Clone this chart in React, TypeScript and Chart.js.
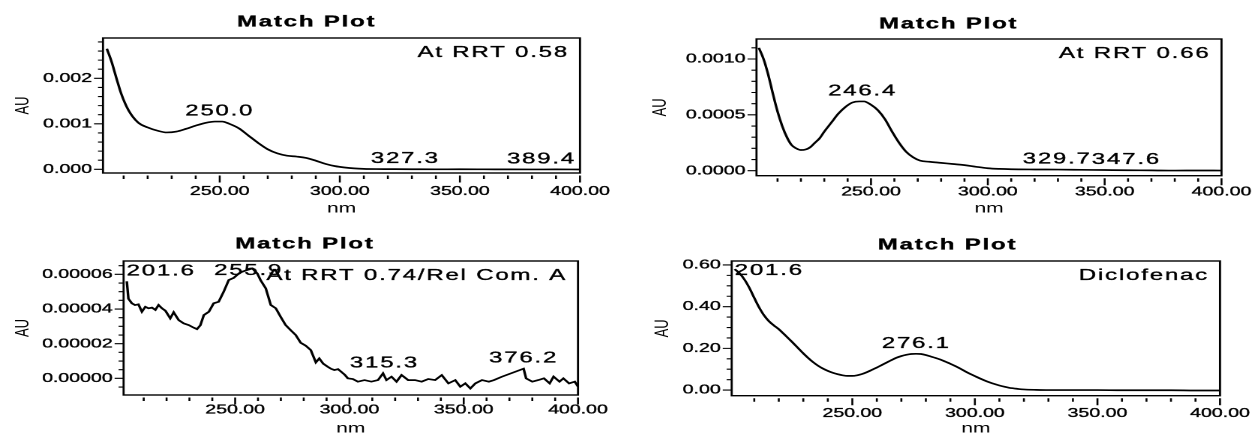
import React, { useEffect, useRef } from "react";
import { Chart, registerables } from "chart.js";

Chart.register(...registerables);

// ---------------- DATA ----------------
// Panel A: At RRT 0.58
const nmA = [203, 205, 207, 209, 212, 216, 220, 224, 228, 232, 236, 240, 244, 248, 251, 254, 258, 262, 266, 270, 274, 278, 282, 286, 290, 294, 298, 302, 306, 310, 315, 320, 330, 340, 350, 360, 370, 380, 390, 400];
const auA = [0.00265, 0.00236, 0.002, 0.00166, 0.0013, 0.00103, 0.00092, 0.00085, 0.00081, 0.00083, 0.00089, 0.00096, 0.00102, 0.00105, 0.00105, 0.001, 0.0009, 0.00074, 0.00058, 0.00044, 0.00035, 0.0003, 0.00028, 0.00025, 0.00019, 0.00012, 0.00007, 0.00004, 0.00002, 0.00001, 0.000005, 0.000004, 0.000002, 0.0, 0.000001, 0.0, -0.000002, -0.000003, -0.000002, -0.000004];
const peakNmA = [250.0, 327.3, 389.4];
const peakAuA = [0.00105, 0.00001, 0.0];
const headerA = "At RRT 0.58";
const yTicksA = [0, 0.001, 0.002];

// Panel B: At RRT 0.66
const nmB = [202, 204, 206, 208, 210, 212, 214, 216, 218, 220, 222, 224, 226, 228, 230, 233, 236, 239, 242, 245, 247, 250, 253, 256, 259, 262, 265, 268, 271, 275, 280, 285, 290, 295, 300, 305, 310, 320, 330, 340, 350, 360, 370, 380, 390, 400];
const auB = [0.0011, 0.001, 0.00086, 0.00069, 0.00053, 0.0004, 0.0003, 0.00023, 0.0002, 0.000185, 0.00019, 0.00021, 0.00025, 0.00029, 0.00035, 0.00043, 0.00051, 0.00057, 0.00061, 0.00062, 0.00062, 0.00059, 0.00054, 0.00046, 0.00035, 0.00025, 0.00017, 0.00012, 0.00009, 0.00008, 0.00007, 0.00006, 0.00005, 0.000035, 0.000022, 0.000016, 0.000013, 0.000011, 0.00001, 0.000008, 0.000006, 0.000004, 0.000003, 0.000001, 0.000002, 0.000001];
const peakNmB = [246.4, 329.7, 347.6];
const peakAuB = [0.00062, 0.00001, 0.000007];
const headerB = "At RRT 0.66";
const yTicksB = [0, 0.0005, 0.001];

// Panel C: At RRT 0.74/Rel Com. A
const nmC = [202.6, 203.3, 204.8, 206.2, 207.7, 209.2, 210.7, 212.1, 213.6, 215.1, 216.5, 218.0, 219.5, 221.6, 223.1, 225.3, 227.5, 229.7, 231.9, 233.3, 234.8, 236.3, 238.5, 240.6, 242.8, 245.0, 247.2, 249.4, 251.6, 253.1, 255.3, 257.5, 259.7, 261.1, 263.4, 265.6, 267.8, 269.9, 272.1, 274.3, 276.5, 278.7, 280.9, 283.1, 285.3, 286.8, 288.5, 290.5, 292.0, 293.4, 295.0, 296.4, 298.0, 299.3, 301.5, 303.7, 306.6, 309.6, 312.5, 314.7, 316.2, 318.4, 320.6, 322.8, 325.7, 328.7, 331.6, 334.5, 337.5, 340.4, 343.3, 346.3, 348.5, 350.7, 352.9, 355.1, 358.0, 361.0, 363.2, 366.6, 376.2, 377.3, 380.0, 382.6, 385.1, 387.6, 389.3, 391.9, 393.6, 396.1, 398.6, 400.0];
const auC = [5.6e-5, 4.6e-5, 4.33e-5, 4.23e-5, 4.27e-5, 3.84e-5, 4.13e-5, 4.04e-5, 4.08e-5, 3.95e-5, 4.23e-5, 4.04e-5, 3.9e-5, 3.46e-5, 3.81e-5, 3.36e-5, 3.17e-5, 3.07e-5, 2.92e-5, 2.84e-5, 3.07e-5, 3.65e-5, 3.84e-5, 4.33e-5, 4.42e-5, 5.0e-5, 5.67e-5, 5.8e-5, 6.05e-5, 6.15e-5, 6.25e-5, 6.34e-5, 6.05e-5, 5.67e-5, 5.19e-5, 4.23e-5, 4.04e-5, 3.55e-5, 3.07e-5, 2.78e-5, 2.5e-5, 2.05e-5, 1.88e-5, 1.63e-5, 9.2e-6, 1.15e-5, 8.5e-6, 6.7e-6, 5.5e-6, 4.8e-6, 5.3e-6, 3.8e-6, 2.0e-6, 0, -4e-7, -1.9e-6, -1e-6, -1.9e-6, -1e-6, 2.9e-6, -1e-6, 9.6e-7, -1.9e-6, 1.9e-6, -1e-6, -1e-6, -1.9e-6, -4e-7, -1e-6, 1.9e-6, -2.9e-6, -1e-6, -4.8e-6, -2.9e-6, -5.8e-6, -2.9e-6, -1e-6, -1.9e-6, -1e-6, 9e-7, 5.6e-6, 0, -1.9e-6, -1e-6, 0, -2.9e-6, 1e-6, -1.9e-6, 0, -2.9e-6, -1.9e-6, -4.8e-6];
const peakNmC = [201.6, 255.9, 315.3, 376.2];
const peakAuC = [5.6e-5, 6.3e-5, 2.9e-6, 5.6e-6];
const headerC = "At RRT 0.74/Rel Com. A";
const yTicksC = [0, 0.00002, 0.00004, 0.00006];

// Panel D: Diclofenac
const nmD = [202, 204, 206, 208, 210, 212, 214, 216, 218, 220, 222, 224, 226, 228, 230, 232, 234, 236, 238, 240, 242, 244, 246, 248, 250, 252, 254, 256, 258, 260, 262, 264, 266, 268, 270, 272, 274, 276, 278, 280, 282, 284, 286, 288, 290, 292, 294, 296, 298, 300, 302, 304, 306, 308, 310, 312, 314, 316, 318, 320, 325, 330, 340, 350, 360, 370, 380, 390, 400];
const auD = [0.58, 0.56, 0.53, 0.49, 0.442, 0.396, 0.358, 0.33, 0.31, 0.292, 0.27, 0.247, 0.224, 0.2, 0.176, 0.154, 0.134, 0.117, 0.103, 0.092, 0.083, 0.076, 0.071, 0.068, 0.068, 0.071, 0.077, 0.086, 0.097, 0.108, 0.12, 0.132, 0.144, 0.155, 0.163, 0.169, 0.173, 0.174, 0.173, 0.168, 0.161, 0.154, 0.146, 0.136, 0.126, 0.115, 0.103, 0.09, 0.078, 0.067, 0.056, 0.046, 0.037, 0.029, 0.022, 0.016, 0.011, 0.008, 0.005, 0.003, 0.001, 0.0, 0.0, 0.0, -0.001, -0.001, -0.001, -0.002, -0.002];
const peakNmD = [201.6, 276.1];
const peakAuD = [0.58, 0.174];
const headerD = "Diclofenac";
const yTicksD = [0, 0.2, 0.4, 0.6];

const xMajorTicks = [250, 300, 350, 400];
const X_MINOR = 10;
const TITLE = "Match Plot";

// ---------------- LAYOUT ----------------
const STRETCH = 1.5;
const FAMILY = '"Liberation Sans", Arial, Helvetica, sans-serif';
const TEXT_STROKE = 0.35;

type Panel = {
  nm: number[]; au: number[]; smooth: boolean;
  peakNm: number[]; peakAu: number[]; header: string;
  yTicks: number[]; yDecimals: number; yMinor: number;
  xMin: number; xMax: number; yMin: number; yMax: number;
  left: number; top: number; width: number; height: number;
  areaL: number; areaR: number; areaT: number; areaB: number;
  titleX: number; titleY: number; auPad: number; xLabelPad: number;
};

const panels: Panel[] = [
  {
    nm: nmA, au: auA, smooth: true, peakNm: peakNmA, peakAu: peakAuA, header: headerA,
    yTicks: yTicksA, yDecimals: 3, yMinor: 0.0002,
    xMin: 201.4, xMax: 400, yMin: -0.000081, yMax: 0.002886,
    left: 0, top: 0, width: 618, height: 217,
    areaL: 103, areaR: 580, areaT: 38, areaB: 173,
    titleX: 306.7, titleY: 26.7, auPad: 7.5, xLabelPad: 10.5,
  },
  {
    nm: nmB, au: auB, smooth: true, peakNm: peakNmB, peakAu: peakAuB, header: headerB,
    yTicks: yTicksB, yDecimals: 4, yMinor: 0.0001,
    xMin: 201.0, xMax: 400, yMin: -0.0000448, yMax: 0.001179,
    left: 620, top: 0, width: 632, height: 217,
    areaL: 756.5, areaR: 1221.5, areaT: 39, areaB: 175.7,
    titleX: 948.6, titleY: 28.3, auPad: 19.1, xLabelPad: 8.2,
  },
  {
    nm: nmC, au: auC, smooth: false, peakNm: peakNmC, peakAu: peakAuC, header: headerC,
    yTicks: yTicksC, yDecimals: 5, yMinor: 0.000005,
    xMin: 201.2, xMax: 400, yMin: -0.0000096, yMax: 0.0000677,
    left: 0, top: 217, width: 618, height: 220,
    areaL: 123.6, areaR: 578, areaT: 261, areaB: 395,
    titleX: 305, titleY: 248.3, auPad: 7.5, xLabelPad: 7.2,
  },
  {
    nm: nmD, au: auD, smooth: true, peakNm: peakNmD, peakAu: peakAuD, header: headerD,
    yTicks: yTicksD, yDecimals: 2, yMinor: 0.05,
    xMin: 200.8, xMax: 400, yMin: -0.027, yMax: 0.619,
    left: 620, top: 217, width: 632, height: 220,
    areaL: 731.7, areaR: 1220, areaT: 261, areaB: 395.7,
    titleX: 947.6, titleY: 249.3, auPad: 20.4, xLabelPad: 9.8,
  },
];

function drawText(ctx: CanvasRenderingContext2D, text: string, x: number, y: number) {
  ctx.fillText(text, x, y);
  ctx.strokeText(text, x, y);
}

function makeDecor(p: Panel, sx: number) {
  return {
    id: "decor",
    afterDraw(chart: any) {
      const ctx: CanvasRenderingContext2D = chart.ctx;
      const a = chart.chartArea;
      const xs = chart.scales.x;
      const ys = chart.scales.y;
      ctx.save();
      ctx.strokeStyle = "#000";
      ctx.fillStyle = "#000";
      // frame
      ctx.lineWidth = 1.4;
      ctx.strokeRect(a.left, a.top, a.right - a.left, a.bottom - a.top);
      // x ticks (below, with small gap)
      ctx.lineWidth = 1.3;
      ctx.beginPath();
      const xStart = Math.ceil(p.xMin / X_MINOR) * X_MINOR;
      for (let v = xStart; v <= p.xMax + 1e-9; v += X_MINOR) {
        const px = xs.getPixelForValue(v);
        const major = xMajorTicks.indexOf(v) >= 0;
        ctx.moveTo(px, a.bottom + 2.5);
        ctx.lineTo(px, a.bottom + 2.5 + (major ? 7 : 3.5));
      }
      ctx.stroke();
      // y ticks (left, attached)
      ctx.lineWidth = 1.1;
      ctx.beginPath();
      const k0 = Math.ceil(p.yMin / p.yMinor - 1e-6);
      const k1 = Math.floor(p.yMax / p.yMinor + 1e-6);
      for (let k = k0; k <= k1; k++) {
        const v = k * p.yMinor;
        const major = p.yTicks.some((t) => Math.abs(t - v) < p.yMinor * 1e-3);
        const py = ys.getPixelForValue(v);
        const len = (major ? 9 : 5) / sx;
        ctx.moveTo(a.left - len, py);
        ctx.lineTo(a.left, py);
      }
      ctx.stroke();
      ctx.lineWidth = TEXT_STROKE;
      // title
      ctx.font = `bold 16px ${FAMILY}`;
      (ctx as any).letterSpacing = "1.2px";
      ctx.textAlign = "center";
      ctx.textBaseline = "alphabetic";
      drawText(ctx, TITLE, (p.titleX - p.left) / sx, p.titleY - p.top);
      // header annotation
      ctx.font = `16px ${FAMILY}`;
      (ctx as any).letterSpacing = "1.2px";
      ctx.textAlign = "right";
      drawText(ctx, p.header, a.right - 11 / sx, a.top + 19);
      // peak labels
      ctx.textAlign = "left";
      let prevRight = -Infinity;
      p.peakNm.forEach((nm, i) => {
        const text = nm.toFixed(1);
        const w = ctx.measureText(text).width;
        let x = xs.getPixelForValue(nm) - w / 2;
        x = Math.max(x, a.left + 3 / sx);
        x = Math.min(x, a.right - 4 / sx - w);
        if (x < prevRight) x = prevRight;
        let y = ys.getPixelForValue(p.peakAu[i]) - 6;
        y = Math.max(y, a.top + 14);
        drawText(ctx, text, x, y);
        prevRight = x + w;
      });
      ctx.restore();
    },
  };
}

function SpectrumPanel({ p }: { p: Panel }) {
  const ref = useRef<HTMLCanvasElement>(null);
  const w0 = Math.round(p.width / STRETCH);
  const sx = p.width / w0;

  useEffect(() => {
    const canvas = ref.current;
    if (!canvas) return;
    const L0 = (p.areaL - p.left) / sx;
    const R0 = (p.areaR - p.left) / sx;
    const T0 = p.areaT - p.top;
    const B0 = p.areaB - p.top;
    const chart = new Chart(canvas, {
      type: "line",
      data: {
        datasets: [
          {
            data: p.nm.map((x, i) => ({ x, y: p.au[i] })),
            borderColor: "#000",
            borderWidth: 1.7,
            pointRadius: 0,
            fill: false,
            tension: 0,
            cubicInterpolationMode: p.smooth ? "monotone" : "default",
          } as any,
        ],
      },
      options: {
        responsive: false,
        animation: false,
        devicePixelRatio: 2,
        events: [],
        layout: { padding: { left: 0, top: T0, right: w0 - R0, bottom: 0 } },
        plugins: {
          legend: { display: false },
          title: { display: false },
          tooltip: { enabled: false },
        },
        scales: {
          x: {
            type: "linear",
            min: p.xMin,
            max: p.xMax,
            grid: { display: false, drawTicks: false },
            border: { display: false },
            afterBuildTicks: (s: any) => {
              s.ticks = xMajorTicks.map((v) => ({ value: v }));
            },
            afterFit: (s: any) => {
              s.height = p.height - B0;
              s.paddingLeft = 0;
              s.paddingRight = 0;
            },
            ticks: {
              padding: p.xLabelPad,
              autoSkip: false,
              maxRotation: 0,
              minRotation: 0,
              color: "#000",
              textStrokeColor: "#000",
              textStrokeWidth: TEXT_STROKE,
              font: { family: FAMILY, size: 13 },
              callback: (v: any) => Number(v).toFixed(2),
            },
            title: {
              display: true,
              text: "nm",
              color: "#000",
              font: { family: FAMILY, size: 14 },
              padding: 0,
            },
          },
          y: {
            type: "linear",
            min: p.yMin,
            max: p.yMax,
            grid: { display: false, drawTicks: false },
            border: { display: false },
            afterBuildTicks: (s: any) => {
              s.ticks = p.yTicks.map((v) => ({ value: v }));
            },
            afterFit: (s: any) => {
              s.width = L0;
              s.paddingTop = 0;
              s.paddingBottom = 0;
            },
            ticks: {
              padding: 11 / sx,
              autoSkip: false,
              color: "#000",
              textStrokeColor: "#000",
              textStrokeWidth: TEXT_STROKE,
              font: { family: FAMILY, size: 13 },
              callback: (v: any) => Number(v).toFixed(p.yDecimals),
            },
            title: {
              display: true,
              text: "AU",
              color: "#000",
              font: { family: FAMILY, size: 13 },
              padding: { top: p.auPad, bottom: 0 },
            },
          },
        },
      } as any,
      plugins: [makeDecor(p, sx)],
    });
    return () => chart.destroy();
  }, []);

  return (
    <canvas
      ref={ref}
      width={w0}
      height={p.height}
      style={{ position: "absolute", left: p.left, top: p.top, width: p.width, height: p.height }}
    />
  );
}

export default function App() {
  return (
    <div
      style={{
        position: "fixed",
        left: 0,
        top: 0,
        width: 1252,
        height: 434,
        overflow: "hidden",
        background: "#fff",
      }}
    >
      {panels.map((p, i) => (
        <SpectrumPanel key={i} p={p} />
      ))}
    </div>
  );
}
